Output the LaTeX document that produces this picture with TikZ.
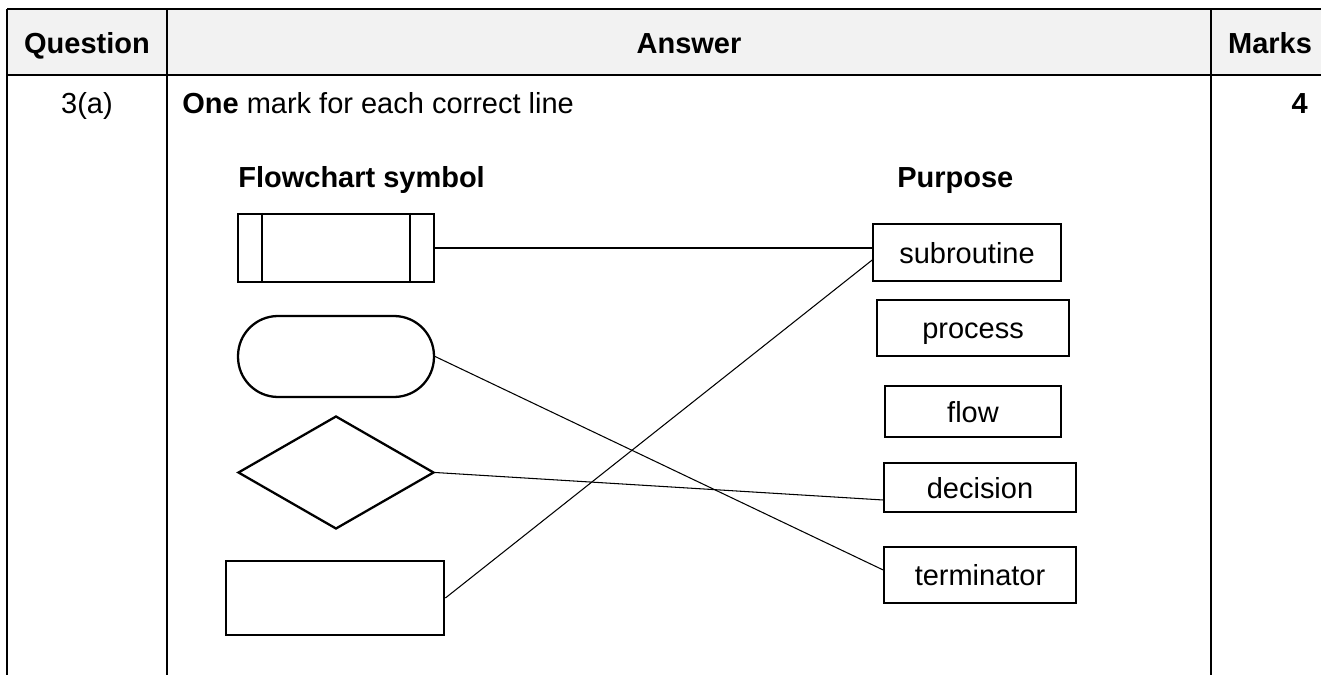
\documentclass[tikz,border=0pt]{standalone}
\usepackage{fontspec}
\setmainfont{Liberation Sans}
\usepackage{tikz}
\usetikzlibrary{shapes.geometric}

\tikzset{
    txt/.style={font=\fontsize{16.5}{20}\selectfont, inner sep=0pt},
    hdr/.style={txt, font=\fontsize{16.5}{20}\selectfont\bfseries},
    grid line/.style={line width=1.1pt},
    symbol/.style={draw, line width=1.3pt, inner sep=0pt},
    purpose/.style={draw, line width=0.9pt, inner sep=0pt, text height=12pt, text depth=0pt,
        font=\fontsize{16.5}{20}\selectfont},
    link/.style={line width=0.6pt}
}

\begin{document}
\begin{tikzpicture}[x=0.02cm, y=-0.02cm]
        \useasboundingbox (0,0) rectangle (1321,675);

        % Table frame and header
        \fill[gray!10] (7,9) rectangle (1321,75);
        \draw[grid line] (7,9) -- (1321,9);
        \draw[grid line] (7,75) -- (1321,75);
        \foreach \x in {7,167,1211} {
            \draw[grid line] (\x,9) -- (\x,675);
        }
        \node[hdr, anchor=base] (hq) at (87,54) {Question};
        \node[hdr, anchor=base] (ha) at (689,54) {Answer};
        \node[hdr, anchor=base] (hm) at (1270,54) {Marks};

        % Answer row
        \node[txt, anchor=base] (qnum) at (87,114) {3(a)};
        \node[txt, anchor=base west] (intro) at (182,114) {\textbf{One} mark for each correct line};
        \node[hdr, anchor=base east] (mark) at (1308,114) {4};

        % Column headings
        \node[hdr, anchor=base west] (hsym) at (238,188) {Flowchart symbol};
        \node[hdr, anchor=base west] (hpur) at (897,188) {Purpose};

        % Flowchart symbols
        \node[symbol, minimum width=3.92cm, minimum height=1.36cm] (symsub) at (336,248) {};
        \draw[line width=1.3pt] ([xshift=0.5cm]symsub.north west) -- ([xshift=0.5cm]symsub.south west);
        \draw[line width=1.3pt] ([xshift=-0.5cm]symsub.north east) -- ([xshift=-0.5cm]symsub.south east);
        \node[symbol, rounded corners=0.8cm, minimum width=3.92cm, minimum height=1.62cm] (symterm) at (336,356.5) {};
        \node[symbol, diamond, minimum width=3.92cm, minimum height=2.26cm] (symdec) at (336,472.5) {};
        \node[symbol, line width=1.6pt, minimum width=4.36cm, minimum height=1.48cm] (symproc) at (335,598) {};

        % Purpose boxes
        \foreach \name/\label/\x/\y/\w/\h in {
            psub/subroutine/967/252.5/3.76/1.14,
            pproc/process/973/328/3.84/1.12,
            pflow/flow/973/411.5/3.52/1.02,
            pdec/decision/980/487.5/3.84/0.98,
            pterm/terminator/980/575/3.84/1.12} {
            \node[purpose, minimum width=\w cm, minimum height=\h cm] (\name) at (\x,\y) {\label};
        }

        % Matching lines
        \draw[link] (symsub.east) -- (symsub.east -| psub.west);
        \draw[link] (symterm.east) -- ([yshift=0.1cm]pterm.west);
        \draw[link] (symdec.east) -- ([yshift=-0.25cm]pdec.west);
        \draw[link] (symproc.east) -- ([yshift=-0.15cm]psub.west);
    \end{tikzpicture}
\end{document}
